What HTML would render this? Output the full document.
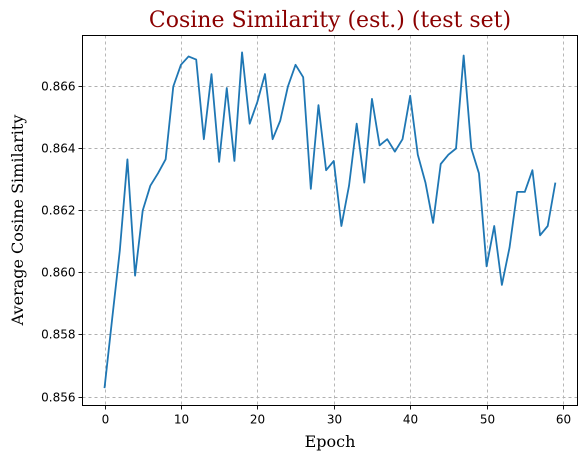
<!DOCTYPE html>
<html><head><meta charset="utf-8"><style>
html,body{margin:0;padding:0;background:#fff;}
svg{display:block;}
</style></head><body>
<svg id="chart" width="588" height="461" xmlns="http://www.w3.org/2000/svg">
<rect width="588" height="461" fill="#fff"/>
<g id="grid"></g>
<path id="series" fill="none" stroke="#1f77b4" stroke-width="1.8" stroke-linejoin="round"/>
<rect x="82.5" y="35.5" width="495" height="370" fill="none" stroke="#000" stroke-width="1"/>
<g id="ticks" font-family="DejaVu Sans, sans-serif" font-size="12" fill="#000"></g>
<text x="330" y="27" text-anchor="middle" font-family="DejaVu Serif, Liberation Serif, serif" font-size="22" fill="#8b0000">Cosine Similarity (est.) (test set)</text>
<text x="330" y="447" text-anchor="middle" font-family="DejaVu Serif, Liberation Serif, serif" font-size="16">Epoch</text>
<text transform="translate(23,220) rotate(-90)" text-anchor="middle" font-family="DejaVu Serif, Liberation Serif, serif" font-size="16">Average Cosine Similarity</text>
</svg>
<script>
const epochs = Array.from({length:60},(_,i)=>i);
const similarity = [0.85627,0.8585,0.8607,0.86365,0.8599,0.8620,0.8628,0.8632,0.86365,0.8660,
0.8667,0.86697,0.86687,0.8643,0.8664,0.86357,0.86595,0.8636,0.8671,0.8648,
0.8655,0.8664,0.8643,0.8649,0.8660,0.8667,0.8663,0.8627,0.8654,0.8633,
0.8636,0.8615,0.8628,0.8648,0.8629,0.8656,0.8641,0.8643,0.8639,0.8643,
0.8657,0.8638,0.8629,0.8616,0.8635,0.8638,0.8640,0.8670,0.8640,0.8632,
0.8602,0.8615,0.8596,0.8608,0.8626,0.8626,0.8633,0.8612,0.8615,0.8629];
const xTicks = [0,10,20,30,40,50,60];
const yTicks = [0.856,0.858,0.860,0.862,0.864,0.866];
const yTickLabels = ["0.856","0.858","0.860","0.862","0.864","0.866"];

const NS="http://www.w3.org/2000/svg";
const L=82.5,R=577.5,T=35.5,B=405.5;
function xs(v){return 104.5+(v-0)*(563-104.5)/60;}
function ys(v){return 396.5-(v-0.856)*(396.5-86.5)/0.010;}
const grid=document.getElementById('grid'), ticks=document.getElementById('ticks');
function line(x1,y1,x2,y2,st,dash,parent){const l=document.createElementNS(NS,'line');
l.setAttribute('x1',x1);l.setAttribute('y1',y1);l.setAttribute('x2',x2);l.setAttribute('y2',y2);
l.setAttribute('stroke',st);l.setAttribute('stroke-width','0.9');if(dash)l.setAttribute('stroke-dasharray',dash);
parent.appendChild(l);return l;}
xTicks.forEach(t=>{const x=Math.round(xs(t))+0.5;
const g=line(x,T,x,B,'#b0b0b0','3,3',grid);


const tk=line(x,B,x,B+4,'#000',null,ticks);


const tx=document.createElementNS(NS,'text');tx.setAttribute('x',x);tx.setAttribute('y',B+18);tx.setAttribute('text-anchor','middle');tx.textContent=t;


ticks.appendChild(tx);});
yTicks.forEach((t,i)=>{const y=Math.round(ys(t))+0.5;
const g=line(L,y,R,y,'#b0b0b0','3,3',grid);


const tk=line(L-4,y,L,y,'#000',null,ticks);


const tx=document.createElementNS(NS,'text');tx.setAttribute('x',L-7);tx.setAttribute('y',y+4);tx.setAttribute('text-anchor','end');tx.textContent=yTickLabels[i];


ticks.appendChild(tx);});
document.getElementById('series').setAttribute('d',similarity.map((v,i)=>(i?'L':'M')+xs(epochs[i]).toFixed(2)+','+ys(v).toFixed(2)).join(''));
</script>
</body></html>
